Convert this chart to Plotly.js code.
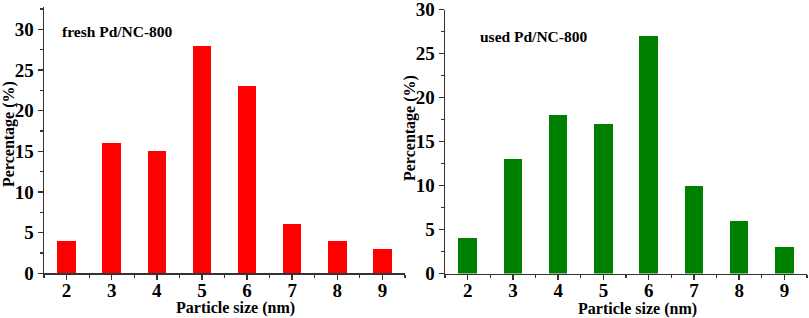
<!DOCTYPE html>
<html>
<head>
<meta charset="utf-8">
<script src="https://cdn.plot.ly/plotly-3.0.1.min.js"></script>
<style>html,body{margin:0;padding:0;background:#fff;}#chart{width:809px;height:318px;}</style>
</head>
<body>
<div id="chart"></div>
<script>
var sizes = [2, 3, 4, 5, 6, 7, 8, 9];
var freshPct = [4, 16, 15, 28, 23, 6, 4, 3];
var usedPct = [4, 13, 18, 17, 27, 10, 6, 3];
var freshLabel = "fresh Pd/NC-800";
var usedLabel = "used Pd/NC-800";
var xTitle = "Particle size (nm)";
var yTitle = "Percentage (%)";

var FONT = "Liberation Serif, Times New Roman, serif";
var W = 809, H = 318;

var traces = [
  {type: 'bar', x: sizes, y: freshPct, xaxis: 'x', yaxis: 'y', width: 0.41,
   marker: {color: '#FF0000', line: {width: 0}}, showlegend: false},
  {type: 'bar', x: sizes, y: usedPct, xaxis: 'x2', yaxis: 'y2', width: 0.41,
   marker: {color: '#008000', line: {width: 0}}, showlegend: false}
];

function xa(dom, anchor) {
  return {
    domain: dom, anchor: anchor, range: [1.5, 9.5], tickmode: 'array', tickvals: sizes,
    showline: true, linecolor: '#333', linewidth: 1.5, ticks: 'outside', ticklen: 5,
    tickwidth: 1.5, tickcolor: '#333', showgrid: false, zeroline: false,
    ticklabelstandoff: -6, ticklabeloverflow: 'allow',
    tickfont: {family: FONT, size: 19, color: '#000', weight: 'bold'},
    minor: {ticks: 'outside', ticklen: 3, tickwidth: 1.2, tickcolor: '#333', dtick: 0.5, tick0: 1.5, showgrid: false},
    automargin: false, fixedrange: true
  };
}
function ya(dom, anchor, top) {
  return {
    domain: dom, anchor: anchor, range: [0, top], dtick: 5, tick0: 0,
    showline: true, linecolor: '#333', linewidth: 1.5, ticks: 'outside', ticklen: 5,
    tickwidth: 1.5, tickcolor: '#333', showgrid: false, zeroline: false,
    ticklabeloverflow: 'allow',
    tickfont: {family: FONT, size: 19, color: '#000', weight: 'bold'},
    minor: {ticks: 'outside', ticklen: 3, tickwidth: 1.2, tickcolor: '#333', dtick: 2.5, showgrid: false},
    automargin: false, fixedrange: true
  };
}

var titleFont = {family: FONT, size: 16, color: '#000', weight: 'bold'};
var labelFont = {family: FONT, size: 15.5, color: '#000', weight: 'bold'};

var layout = {
  width: W, height: H,
  margin: {l: 0, r: 0, t: 0, b: 0},
  paper_bgcolor: '#fff', plot_bgcolor: '#fff',
  bargap: 0,
  xaxis: xa([44 / W, 405 / W], 'y'),
  yaxis: ya([(H - 273.3) / H, (H - 7.3) / H], 'x', 32.7),
  xaxis2: xa([445 / W, 807 / W], 'y2'),
  yaxis2: ya([(H - 273.5) / H, (H - 9.5) / H], 'x2', 30),
  annotations: [
    {xref: 'paper', yref: 'paper', x: 60 / W, y: (H - 31.7) / H, xanchor: 'left', yanchor: 'middle',
     text: freshLabel, showarrow: false, font: labelFont},
    {xref: 'paper', yref: 'paper', x: 478 / W, y: (H - 36.7) / H, xanchor: 'left', yanchor: 'middle',
     text: usedLabel, showarrow: false, font: labelFont},
    {xref: 'paper', yref: 'paper', x: 235 / W, y: (H - 308) / H, xanchor: 'center', yanchor: 'middle',
     text: xTitle, showarrow: false, font: titleFont},
    {xref: 'paper', yref: 'paper', x: 637 / W, y: (H - 309) / H, xanchor: 'center', yanchor: 'middle',
     text: xTitle, showarrow: false, font: titleFont},
    {xref: 'paper', yref: 'paper', x: 9 / W, y: (H - 134) / H, xanchor: 'center', yanchor: 'middle',
     textangle: -90, text: yTitle, showarrow: false, font: titleFont},
    {xref: 'paper', yref: 'paper', x: 410 / W, y: (H - 128) / H, xanchor: 'center', yanchor: 'middle',
     textangle: -90, text: yTitle, showarrow: false, font: titleFont}
  ]
};

Plotly.newPlot('chart', traces, layout, {displayModeBar: false, staticPlot: true});
</script>
</body>
</html>
